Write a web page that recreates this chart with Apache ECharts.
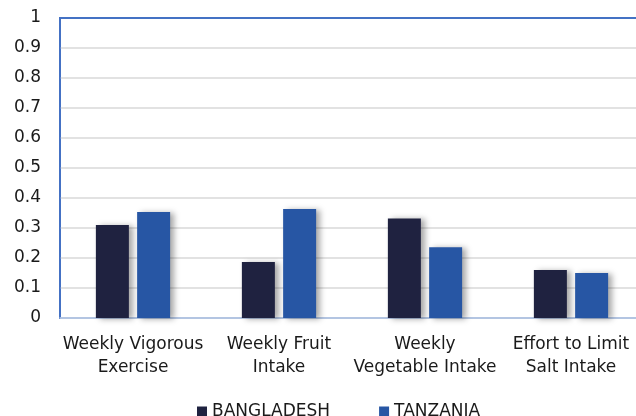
<!DOCTYPE html>
<html>
<head>
<meta charset="utf-8">
<script src="https://cdn.jsdelivr.net/npm/echarts@6/dist/echarts.min.js"></script>
<style>
  html, body { margin: 0; padding: 0; background: #fff; }
  #chart { width: 636px; height: 416px; }
</style>
</head>
<body>
<div id="chart"></div>
<script>
// data
var categories = ['Weekly Vigorous\nExercise', 'Weekly Fruit\nIntake', 'Weekly\nVegetable Intake', 'Effort to Limit\nSalt Intake'];
var bangladesh = [0.31, 0.187, 0.332, 0.16];
var tanzania = [0.353, 0.363, 0.236, 0.15];
var yTicks = [0, 0.1, 0.2, 0.3, 0.4, 0.5, 0.6, 0.7, 0.8, 0.9, 1];

var font = 'DejaVu Sans';
var myChart = echarts.init(document.getElementById('chart'));

var barShadow = {
    shadowColor: 'rgba(0,0,0,0.35)',
    shadowBlur: 6,
    shadowOffsetX: 4,
    shadowOffsetY: 1
};

var option = {
    animation: false,
    grid: {
        left: 60,
        top: 18,
        width: 584,
        height: 300,
        outerBoundsMode: 'none',
        containLabel: false,
        show: true,
        borderColor: '#4472C4',
        borderWidth: 2
    },
    legend: {
        left: 192,
        top: 398,
        itemWidth: 10,
        itemHeight: 10,
        itemGap: 49,
        icon: 'rect',
        textStyle: { fontFamily: font, fontSize: 17, color: '#1a1a1a' },
        data: ['BANGLADESH', 'TANZANIA']
    },
    xAxis: {
        type: 'category',
        data: categories,
        axisLine: { lineStyle: { color: '#b4c7e7', width: 1.5 } },
        axisTick: { show: false },
        axisLabel: {
            fontFamily: font,
            fontSize: 17,
            color: '#1a1a1a',
            lineHeight: 23,
            margin: 15,
            interval: 0
        }
    },
    yAxis: {
        type: 'value',
        min: 0,
        max: 1,
        interval: 0.1,
        axisLine: { show: true, lineStyle: { color: '#4472C4', width: 1.5 } },
        axisTick: { show: false },
        splitLine: { showMaxLine: false, lineStyle: { color: '#d9d9d9', width: 1.5 } },
        axisLabel: {
            fontFamily: font,
            fontSize: 17,
            color: '#1a1a1a',
            margin: 19,
            formatter: function (v) {
                var t = yTicks.find(function (x) { return Math.abs(x - v) < 1e-9; });
                return t === undefined ? '' : String(t);
            }
        }
    },
    series: [
        {
            name: 'BANGLADESH',
            type: 'bar',
            data: bangladesh,
            barWidth: 33,
            barGap: '25%',
            itemStyle: Object.assign({ color: '#1f2240' }, barShadow)
        },
        {
            name: 'TANZANIA',
            type: 'bar',
            data: tanzania,
            barWidth: 33,
            itemStyle: Object.assign({ color: '#2756a4' }, barShadow)
        }
    ]
};

myChart.setOption(option);
</script>
</body>
</html>
